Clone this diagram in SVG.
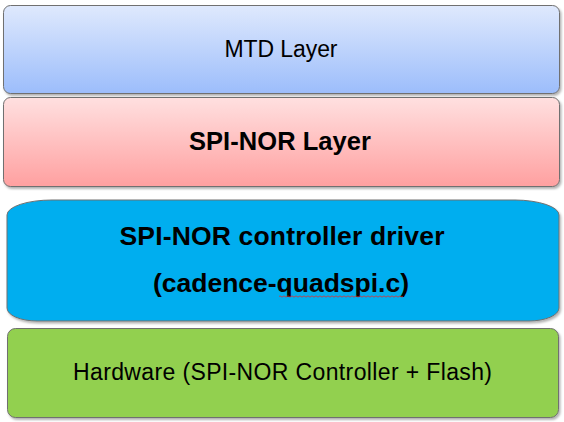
<svg xmlns="http://www.w3.org/2000/svg" width="564" height="422" viewBox="0 0 564 422">
  <defs>
    <linearGradient id="gBlue" x1="0" y1="0" x2="0" y2="1">
      <stop offset="0" stop-color="#dfe9fd"/>
      <stop offset="1" stop-color="#9cbdfb"/>
    </linearGradient>
    <linearGradient id="gRed" x1="0" y1="0" x2="0" y2="1">
      <stop offset="0" stop-color="#ffe0e0"/>
      <stop offset="1" stop-color="#ffa0a0"/>
    </linearGradient>
    <filter id="sh" x="-5%" y="-10%" width="110%" height="130%">
      <feDropShadow dx="1.5" dy="2" stdDeviation="1.2" flood-color="#000" flood-opacity="0.3"/>
    </filter>
  </defs>
  <style>
    .box { stroke: #707070; stroke-width: 1; filter: url(#sh); }
    .t { font-family: "Liberation Sans", Arial, sans-serif; fill: #000; text-anchor: middle; }
    .b { font-weight: bold; }
  </style>
  <rect width="564" height="422" fill="#ffffff"/>
  <g id="connectors"/>
  <g id="mtd">
    <rect class="box" x="3.5" y="5.5" width="556" height="88" rx="7" fill="url(#gBlue)"/>
    <text class="t" x="281" y="57" font-size="23" textLength="113">MTD Layer</text>
  </g>
  <g id="spinor">
    <rect class="box" x="3.5" y="97.5" width="556" height="89" rx="7" fill="url(#gRed)"/>
    <text class="t b" x="280" y="150" font-size="25.5" textLength="182">SPI-NOR Layer</text>
  </g>
  <g id="driver">
    <path class="box" d="M 7,215 A 45 15 0 0 1 52,200 L 515,200 A 45 15 0 0 1 559,215 L 559,308 A 30 13 0 0 1 529,321 L 37,321 A 30 13 0 0 1 7,308 Z" fill="#00aeef" stroke="#3a7fa8"/>
    <text class="t b" x="282" y="245" font-size="26.5" textLength="325">SPI-NOR controller driver</text>
    <text class="t b" x="281" y="292" font-size="26.5" textLength="256">(cadence-quadspi.c)</text>
    <path d="M 279,296.5 q 1,-1.2 2,0 t 2,0 t 2,0 t 2,0 t 2,0 t 2,0 t 2,0 t 2,0 t 2,0 t 2,0 t 2,0 t 2,0 t 2,0 t 2,0 t 2,0 t 2,0 t 2,0 t 2,0 t 2,0 t 2,0 t 2,0 t 2,0 t 2,0 t 2,0 t 2,0 t 2,0 t 2,0 t 2,0 t 2,0 t 2,0 t 2,0 t 2,0 t 2,0 t 2,0 t 2,0 t 2,0 t 2,0 t 2,0 t 2,0 t 2,0 t 2,0 t 2,0 t 2,0 t 2,0 t 2,0 t 2,0 t 2,0 t 2,0 t 2,0 t 2,0 t 2,0 t 2,0 t 2,0 t 2,0 t 2,0 t 2,0 t 2,0 t 2,0 t 2,0 t 2,0 t 2,0 t 2,0" fill="none" stroke="#e03030" stroke-width="0.8"/>
  </g>
  <g id="hardware">
    <rect class="box" x="7.5" y="328.5" width="551" height="89" rx="8" fill="#92d050"/>
    <text class="t" x="282.5" y="380" font-size="23" textLength="419">Hardware (SPI-NOR Controller + Flash)</text>
  </g>
</svg>
